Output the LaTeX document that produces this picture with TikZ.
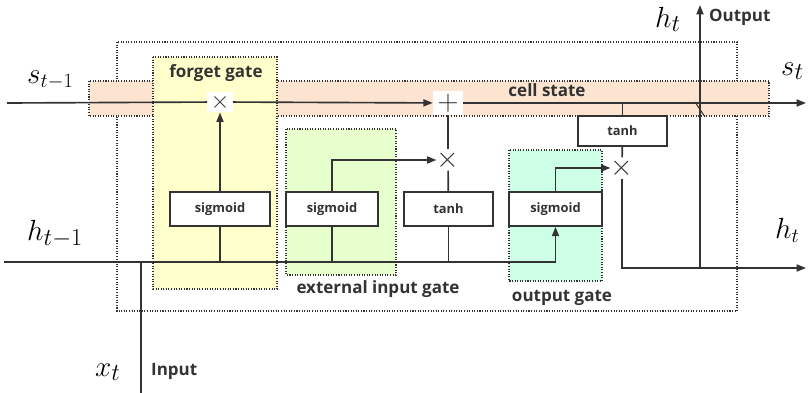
\documentclass[tikz,border=0pt]{standalone}
\usepackage{fontspec}
\setsansfont{Open Sans}
\usetikzlibrary{arrows.meta,positioning,calc}
\definecolor{ink}{RGB}{51,51,51}
\definecolor{cellband}{RGB}{252,228,208}
\definecolor{forgetfill}{RGB}{255,255,204}
\definecolor{inputfill}{RGB}{230,255,204}
\definecolor{outputfill}{RGB}{204,255,230}

\begin{document}
\begin{tikzpicture}[x=0.03cm,y=-0.03cm,
  wire/.style={draw=ink,line width=1.4pt},
  flow/.style={wire,-{Triangle[length=8pt,width=6pt]}},
  region/.style={draw=ink,line width=0.9pt,dash pattern=on 0.9pt off 1.3pt},
  func/.style={draw=ink,line width=1.4pt,fill=white,inner sep=0pt,minimum height=1.02cm,
    text=ink,font=\sffamily\bfseries\fontsize{11}{11}\selectfont},
  op/.style={fill=white,inner sep=0pt,minimum width=0.76cm,minimum height=0.62cm,text=ink},
  tag/.style={text=ink,font=\sffamily\bfseries\fontsize{14.5}{14.5}\selectfont},
  var/.style={text=black,anchor=base west,inner sep=0pt,font=\fontsize{#1}{#1}\selectfont}]
\useasboundingbox (0,0) rectangle (809,393);

% cell body, state band and gate regions
\draw[region] (117,42) rectangle (737,311);
\filldraw[region,fill=cellband] (89,81) rectangle (769,116);
\filldraw[region,fill=forgetfill] (153,57) rectangle (277,289);
\filldraw[region,fill=inputfill] (286,129) rectangle (396,275);
\filldraw[region,fill=outputfill] (509,150) rectangle (602,281);

\node[tag] at (216,73) {forget gate};
\node[tag] at (547,90) {cell state};
\node[tag] at (378,289) {external input gate};
\node[tag] at (562,298) {output gate};

% activation blocks
\node[func,minimum width=3cm] (fsig) at (220,209) {sigmoid};
\node[func,minimum width=2.76cm] (esig) at (332,209) {sigmoid};
\node[func,minimum width=2.67cm] (ctanh) at (448.5,209) {tanh};
\node[func,minimum width=2.79cm] (osig) at (555.5,209) {sigmoid};
\node[func,minimum width=2.67cm,minimum height=0.9cm] (otanh) at (622.5,131) {tanh};

% pointwise operations
\node[op] (fmul) at (220,102) {\fontsize{22}{22}\selectfont$\times$};
\node[op,minimum width=0.9cm,minimum height=0.7cm] (plus) at (448,103) {\fontsize{28}{28}\selectfont$+$};
\node[op,minimum width=0.66cm] (imul) at (448,160) {\fontsize{28}{28}\selectfont$\times$};
\node[op,minimum width=0.66cm] (omul) at (622,168) {\fontsize{28}{28}\selectfont$\times$};

% ends of the wires
\coordinate (sin) at (7,103);
\coordinate (sout) at (806,103);
\coordinate (hin) at (4,262);
\coordinate (hout) at (806,268);
\coordinate (hup) at (700,5);
\coordinate (xin) at (141,393);

% cell state
\draw[wire] (sin) -- (fmul);
\draw[flow] (fmul) -- (plus);
\draw[flow] (plus) -- (sout);

% previous output feeds every gate
\draw[flow] (hin) -| (osig.south);
\draw[wire] (xin) -- (xin |- hin);
\draw[wire] (fsig) -- (fsig |- hin);
\draw[wire] (esig) -- (esig |- hin);
\draw[wire] (ctanh) -- (ctanh |- hin);

\draw[flow] (fsig) -- (fmul);
\draw[flow] (esig.north) |- (imul);
\draw[wire] (ctanh) -- (imul);
\draw[wire] (imul) -- (plus);
\draw[flow] (osig.north) |- (omul);

% output path
\draw[wire] (otanh.north) -- (otanh.north |- sout);
\draw[wire] (otanh) -- (omul);
\draw[flow] (omul) |- (hout);
\draw[flow] (hup |- hout) -- (hup);
\draw[draw=ink,line width=0.9pt] (695,102) -- (705,117);

\node[tag,anchor=west] at (705,17) {Output};
\node[tag,anchor=west] at (147,371) {Input};

\node[var=26] at (27,83) {$s_{t-1}$};
\node[var=29] at (27,240) {$h_{t-1}$};
\node[var=30] at (95,376) {$x_t$};
\node[var=29] at (655,27) {$h_t$};
\node[var=28] at (781,75) {$s_t$};
\node[var=27] at (775,238) {$h_t$};
\end{tikzpicture}
\end{document}
